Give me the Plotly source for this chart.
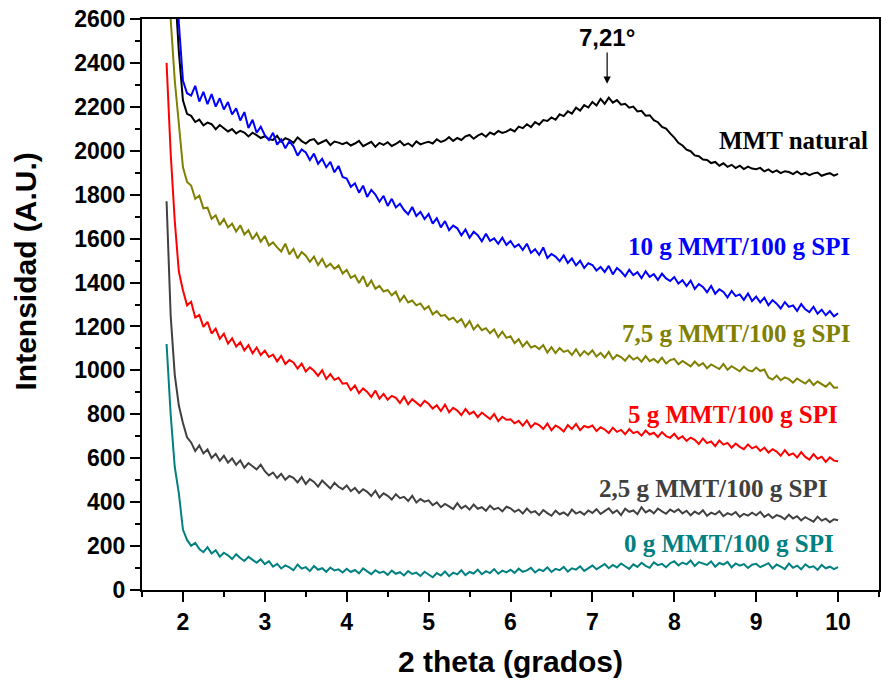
import numpy as np
import plotly.graph_objects as go

# 2-theta grid of the diffractograms (step 0.05 deg, 1.80 .. 10.00)
two_theta = np.round(np.arange(1.80, 10.0001, 0.05), 2)

mmt_natural = [
    3400, 3050, 2760, 2450,
    2230, 2168, 2159, 2131, 2142, 2116, 2128, 2121, 2098, 2117, 2104, 2088, 2099, 2079, 2091, 2083, 2065, 2082, 2071, 2058,
    2066, 2052, 2049, 2068, 2041, 2057, 2050, 2036, 2061, 2044, 2033, 2048, 2053, 2031, 2040, 2049, 2026, 2042, 2037, 2030,
    2038, 2024, 2033, 2045, 2021, 2030, 2041, 2018, 2036, 2027, 2039, 2022, 2031, 2044, 2025, 2034, 2020, 2043, 2029, 2036,
    2041, 2033, 2052, 2040, 2047, 2062, 2045, 2058, 2049, 2066, 2072, 2055, 2069, 2078, 2064, 2083, 2074, 2090, 2081, 2087,
    2098, 2088, 2110, 2103, 2121, 2108, 2131, 2119, 2140, 2136, 2152, 2141, 2166, 2158, 2180, 2169, 2196, 2183, 2208, 2197,
    2222, 2206, 2236, 2214, 2242, 2219, 2231, 2210, 2214, 2196, 2201, 2179, 2182, 2160, 2162, 2139, 2130, 2109, 2101, 2079,
    2060, 2036, 2024, 2005, 1998, 1979, 1975, 1960, 1958, 1944, 1949, 1932, 1943, 1927, 1936, 1921, 1932, 1917, 1928, 1919,
    1916, 1922, 1906, 1915, 1902, 1911, 1898, 1907, 1903, 1894, 1906, 1892, 1899, 1889, 1897, 1901, 1886, 1893, 1898, 1887,
    1895,
]

spi_mmt_10 = [
    3900, 3450, 3000, 2580,
    2320, 2262, 2251, 2296, 2224, 2268, 2212, 2258, 2201, 2239, 2188, 2222, 2165, 2193, 2138, 2176, 2104, 2141, 2082, 2109,
    2071, 2049, 2082, 2028, 2052, 2011, 2043, 2020, 1978, 2006, 1992, 1958, 1987, 1941, 1963, 1925, 1949, 1902, 1931, 1881,
    1874, 1836, 1852, 1809, 1841, 1790, 1822, 1801, 1768, 1795, 1749, 1781, 1742, 1759, 1730, 1711, 1744, 1703, 1722, 1689,
    1712, 1668, 1693, 1651, 1680, 1638, 1659, 1647, 1615, 1642, 1604, 1631, 1616, 1588, 1622, 1590, 1601, 1576, 1604, 1571,
    1589, 1561, 1574, 1548, 1577, 1535, 1552, 1526, 1560, 1512, 1530, 1518, 1497, 1524, 1489, 1510, 1478, 1499, 1466, 1488,
    1480, 1455, 1471, 1448, 1476, 1437, 1466, 1450, 1428, 1458, 1434, 1447, 1420, 1451, 1426, 1438, 1412, 1440, 1419, 1407,
    1425, 1396, 1411, 1384, 1409, 1371, 1393, 1380, 1356, 1384, 1349, 1369, 1357, 1332, 1362, 1338, 1346, 1321, 1350, 1316,
    1336, 1310, 1331, 1297, 1320, 1304, 1282, 1311, 1289, 1296, 1271, 1302, 1278, 1265, 1290, 1258, 1276, 1251, 1270, 1246,
    1260,
]

spi_mmt_7_5 = [
    3100, 2600, 2320, 2110,
    1926, 1858, 1842, 1781, 1796, 1738, 1741, 1690, 1706, 1662, 1689, 1651, 1668, 1632, 1661, 1619, 1638, 1597, 1624, 1586,
    1612, 1569, 1583, 1560, 1541, 1577, 1528, 1553, 1510, 1539, 1522, 1494, 1518, 1480, 1507, 1471, 1486, 1462, 1478, 1441,
    1458, 1421, 1432, 1398, 1429, 1381, 1409, 1372, 1385, 1359, 1366, 1342, 1358, 1315, 1340, 1309, 1318, 1296, 1305, 1278,
    1292, 1255, 1270, 1248, 1252, 1231, 1240, 1219, 1234, 1198, 1225, 1186, 1207, 1183, 1192, 1169, 1187, 1151, 1176, 1148,
    1155, 1124, 1142, 1109, 1131, 1104, 1112, 1097, 1115, 1081, 1106, 1079, 1102, 1084, 1091, 1070, 1096, 1066, 1088, 1072,
    1091, 1063, 1080, 1058, 1084, 1051, 1070, 1061, 1044, 1068, 1049, 1059, 1040, 1065, 1042, 1052, 1036, 1058, 1031, 1047,
    1052, 1028, 1043, 1031, 1018, 1040, 1021, 1033, 1010, 1027, 1015, 1006, 1029, 1003, 1019, 1008, 996, 1017, 1001, 995,
    1013, 997, 1004, 968, 958, 976, 955, 968, 960, 944, 963, 951, 940, 957, 933, 949, 938, 926, 944, 921,
    922,
]

spi_mmt_5 = [
    2400, 1990, 1680, 1450,
    1365, 1296, 1312, 1241, 1252, 1198, 1221, 1168, 1190, 1144, 1167, 1122, 1146, 1109, 1128, 1091, 1115, 1078, 1104, 1070,
    1090, 1061, 1072, 1041, 1066, 1029, 1047, 1036, 1008, 1031, 995, 1014, 998, 975, 1001, 961, 983, 957, 966, 939,
    942, 910, 931, 896, 918, 902, 879, 908, 871, 893, 866, 884, 875, 851, 880, 846, 869, 853, 838, 861,
    848, 826, 841, 815, 844, 809, 830, 817, 796, 824, 801, 812, 787, 808, 794, 778, 801, 769, 789, 775,
    777, 759, 770, 748, 772, 741, 760, 751, 733, 758, 727, 749, 738, 722, 751, 733, 756, 728, 747, 740,
    749, 724, 741, 731, 715, 739, 720, 729, 709, 733, 714, 721, 703, 726, 708, 716, 697, 719, 701, 693,
    711, 688, 700, 679, 694, 684, 665, 690, 669, 676, 655, 681, 662, 670, 648, 667, 652, 641, 663, 645,
    654, 633, 648, 626, 641, 630, 611, 637, 614, 622, 603, 628, 606, 594, 619, 598, 607, 583, 604, 589,
    586,
]

spi_mmt_2_5 = [
    1770, 1250, 980, 840,
    760, 695, 672, 633, 658, 622, 640, 601, 620, 588, 611, 580, 599, 570, 590, 557, 578, 562, 549, 571,
    541, 522, 535, 510, 529, 502, 519, 511, 490, 514, 483, 505, 492, 471, 498, 480, 462, 488, 470, 459,
    476, 450, 465, 442, 459, 447, 428, 452, 421, 440, 429, 412, 436, 418, 424, 405, 429, 398, 414, 402,
    408, 386, 399, 377, 392, 381, 368, 395, 372, 384, 366, 389, 370, 377, 361, 384, 367, 374, 358, 379,
    372, 356, 366, 348, 371, 352, 359, 341, 364, 350, 338, 361, 345, 353, 339, 366, 348, 357, 343, 362,
    351, 368, 346, 359, 372, 350, 363, 341, 370, 356, 362, 345, 377, 353, 364, 349, 371, 358, 347, 366,
    355, 368, 349, 361, 340, 357, 346, 363, 338, 352, 344, 359, 336, 350, 342, 355, 333, 347, 339, 352,
    340, 356, 333, 345, 328, 341, 335, 322, 343, 326, 336, 317, 332, 321, 311, 334, 316, 325, 309, 322,
    318,
]

spi_mmt_0 = [
    1120, 800, 560, 440,
    275, 228, 201, 214, 186, 172, 195, 166, 181, 152, 170, 158, 141, 163, 146, 132, 151, 137, 124, 140,
    118, 131, 106, 119, 98, 112, 103, 90, 116, 97, 104, 86, 109, 92, 99, 83, 102, 89, 94, 80,
    97, 82, 91, 76, 99, 85, 72, 90, 78, 84, 69, 88, 74, 81, 66, 86, 73, 79, 64, 83,
    70, 58, 77, 66, 84, 63, 79, 71, 90, 68, 82, 75, 93, 72, 86, 77, 95, 74, 88, 80,
    92, 78, 97, 83, 89, 101, 80, 94, 86, 103, 82, 96, 90, 105, 84, 99, 93, 108, 87, 101,
    111, 94, 106, 118, 99, 114, 103, 121, 108, 96, 117, 105, 124, 110, 101, 126, 113, 119, 104, 122,
    131, 112, 125, 117, 134, 109, 127, 120, 114, 130, 106, 123, 116, 128, 103, 121, 111, 118, 100, 115,
    119, 104, 113, 122, 98, 116, 107, 95, 120, 101, 111, 94, 117, 103, 108, 92, 114, 99, 106, 95,
    104,
]

series_names = [
    "MMT natural",
    "10 g MMT/100 g SPI",
    "7,5 g MMT/100 g SPI",
    "5 g MMT/100 g SPI",
    "2,5 g MMT/100 g SPI",
    "0 g MMT/100 g SPI",
]
series_values = [mmt_natural, spi_mmt_10, spi_mmt_7_5, spi_mmt_5, spi_mmt_2_5, spi_mmt_0]
series_colors = ["#000000", "#0000FF", "#808000", "#FF0000", "#404040", "#008080"]

for vals in series_values:
    assert len(vals) == len(two_theta), len(vals)

# label anchor (right end x, centre y) for each curve name
label_x = [10.385, 10.17, 10.17, 10.02, 9.89, 9.97]
label_y = [2046, 1565, 1169, 798, 463, 213]

peak_x = 7.18
peak_label = "7,21°"

fig = go.Figure()
for name, vals, col in zip(series_names, series_values, series_colors):
    fig.add_trace(go.Scatter(
        x=two_theta, y=vals, mode="lines", name=name,
        line=dict(color=col, width=2),
    ))

for name, col, lx, ly in zip(series_names, series_colors, label_x, label_y):
    fig.add_annotation(
        x=lx, y=ly, xref="x", yref="y", text=f"<b>{name}</b>", showarrow=False,
        xanchor="right", yanchor="middle",
        font=dict(family="Liberation Serif, Times New Roman, serif", size=25, color=col),
    )

fig.add_annotation(
    x=peak_x, y=2305, ax=peak_x, ay=2516, xref="x", yref="y", axref="x", ayref="y",
    text=f"<b>{peak_label}</b>", showarrow=True, arrowhead=2, arrowsize=1.2, arrowwidth=1.2,
    arrowcolor="#000000",
    font=dict(family="Liberation Sans, Arial, sans-serif", size=24, color="#000000"),
)

# axis titles
fig.add_annotation(
    x=-0.158, y=0.557, xref="paper", yref="paper", text="<b>Intensidad (A.U.)</b>",
    textangle=-90, showarrow=False, xanchor="center", yanchor="middle",
    font=dict(family="Liberation Sans, Arial, sans-serif", size=30, color="#000000"),
)
fig.add_annotation(
    x=0.5, y=-0.126, xref="paper", yref="paper", text="<b>2 theta (grados)</b>",
    showarrow=False, xanchor="center", yanchor="middle",
    font=dict(family="Liberation Sans, Arial, sans-serif", size=30, color="#000000"),
)

axis_font = dict(family="Liberation Sans, Arial, sans-serif", size=23, color="#000000")
fig.update_xaxes(
    range=[1.5, 10.5], dtick=1, tick0=0, showgrid=False, zeroline=False,
    showline=True, linecolor="#000000", linewidth=2, mirror=True,
    ticks="outside", ticklen=10, tickwidth=2, tickcolor="#000000",
    tickfont=axis_font, tickprefix="<b>", ticksuffix="</b>",
    minor=dict(ticks="outside", ticklen=5, tickwidth=2, tickcolor="#000000", dtick=0.5, tick0=0, showgrid=False),
)
fig.update_yaxes(
    range=[0, 2600], dtick=200, tick0=0, showgrid=False, zeroline=False,
    showline=True, linecolor="#000000", linewidth=2, mirror=True,
    ticks="outside", ticklen=10, tickwidth=2, tickcolor="#000000",
    tickfont=axis_font, tickprefix="<b>", ticksuffix="</b>",
    minor=dict(ticks="outside", ticklen=5, tickwidth=2, tickcolor="#000000", dtick=100, tick0=0, showgrid=False),
)

fig.update_layout(
    width=882, height=685,
    margin=dict(l=142, r=1, t=19, b=95),
    paper_bgcolor="#FFFFFF", plot_bgcolor="#FFFFFF",
    showlegend=False,
)

fig.write_html("out.html")
